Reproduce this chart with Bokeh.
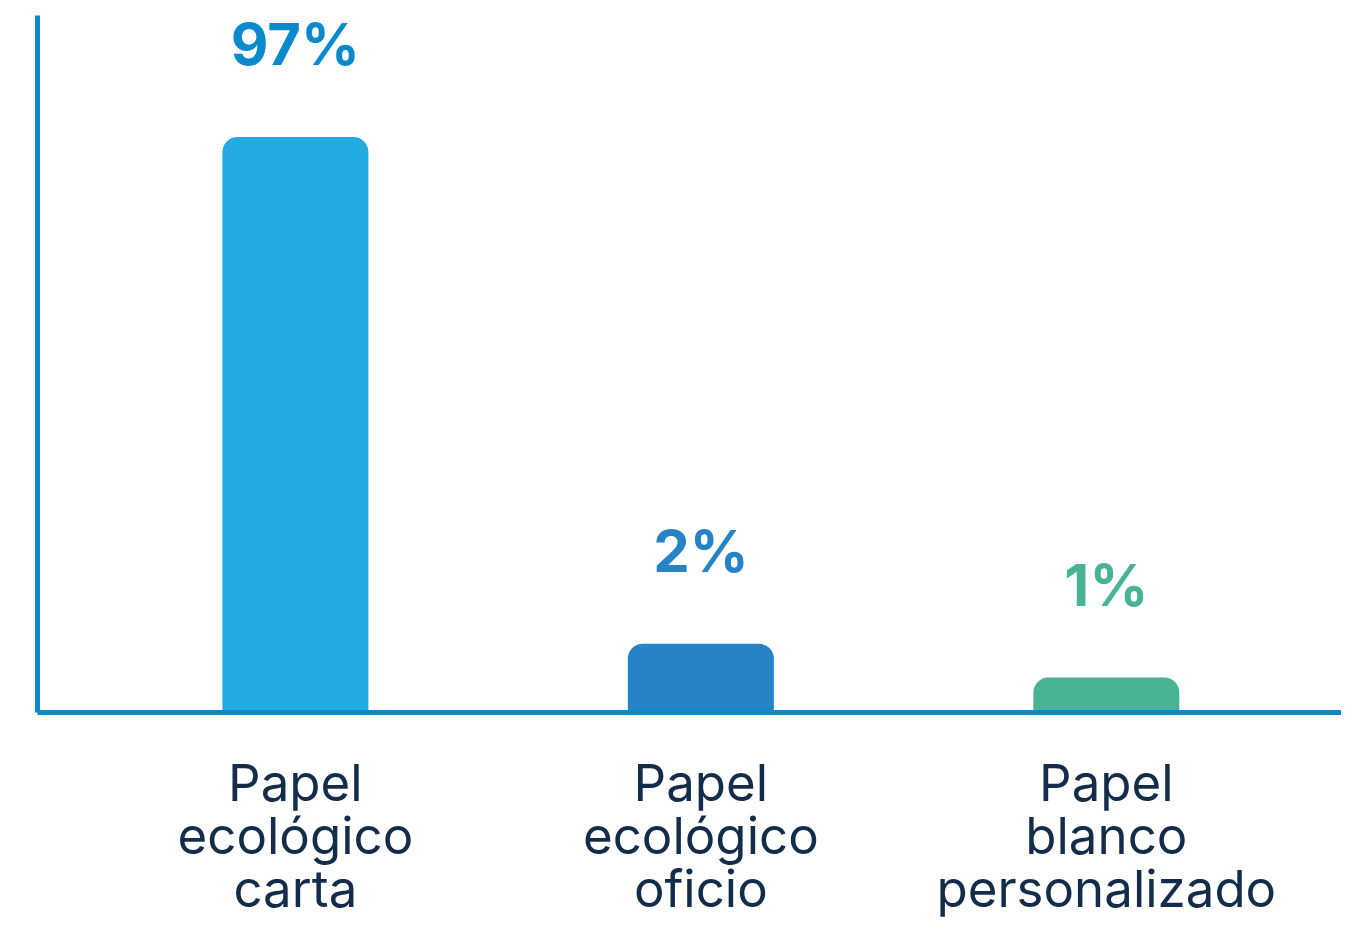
from bokeh.plotting import figure
from bokeh.models import Range1d, FixedTicker, ColumnDataSource
from bokeh.core.properties import value
from bokeh.embed import file_html
from bokeh.resources import INLINE

# ---- data ----
categories = ["Papel\necológico\ncarta", "Papel\necológico\noficio", "Papel\nblanco\npersonalizado"]
shares = [97, 2, 1]
share_labels = ["97%", "2%", "1%"]
# drawn bar lengths (the original bars are not proportional to the shares)
bar_heights = [97, 11.6, 5.9]
bar_colors = ["#22abe2", "#2683c6", "#48b495"]
label_colors = ["#0a8acd", "#2683c6", "#48b495"]

xs = list(range(len(categories)))
src = ColumnDataSource(dict(x=xs, top=bar_heights, lab=share_labels,
                            bc=bar_colors, lc=label_colors, share=shares))

p = figure(width=1341, height=921, output_backend="svg", toolbar_location=None,
           x_range=Range1d(-0.636, 2.58), y_range=Range1d(0, 117.5),
           min_border_left=37, min_border_right=0, min_border_top=15, min_border_bottom=0)
p.outline_line_color = None
p.grid.visible = False
p.background_fill_color = "white"
p.border_fill_color = "white"

p.vbar(x="x", top="top", bottom=0, width=0.36, fill_color="bc", line_color=None,
       border_radius=(15, 15, 0, 0), source=src)

p.text(x="x", y="top", text="lab", text_color="lc", y_offset=-93,
       text_align="center", text_baseline="alphabetic",
       text_font=value("Inter"), text_font_style="bold", text_font_size="58px", source=src)

axis_color = "#0a89cb"
p.yaxis.ticker = FixedTicker(ticks=[])
p.yaxis.axis_line_color = axis_color
p.yaxis.axis_line_width = 5
p.yaxis.major_tick_line_color = None
p.yaxis.minor_tick_line_color = None
p.yaxis.major_label_text_font_size = "0px"

p.xaxis.ticker = FixedTicker(ticks=xs)
p.xaxis.major_label_overrides = {i: c for i, c in zip(xs, categories)}
p.xaxis.axis_line_color = axis_color
p.xaxis.axis_line_width = 5
p.xaxis.major_tick_line_color = None
p.xaxis.minor_tick_line_color = None
p.xaxis.major_label_text_font = "Inter"
p.xaxis.major_label_text_font_size = "51px"
p.xaxis.major_label_text_color = "#132c4a"
p.xaxis.major_label_text_line_height = 0.87
p.xaxis.major_label_standoff = 33

open("out.html", "w").write(file_html(p, INLINE))
